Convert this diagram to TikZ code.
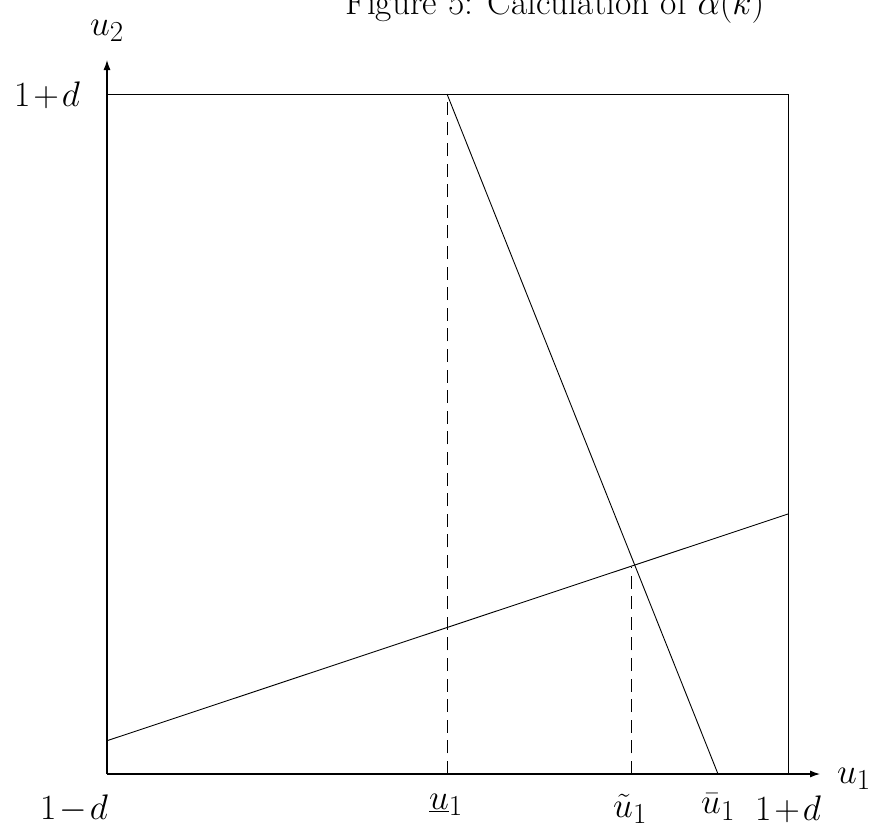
\documentclass[tikz,border=0pt]{standalone}
\usepackage{fix-cm}
\DeclareMathSizes{35.5}{35.5}{29}{24}
\usetikzlibrary{arrows.meta}
\begin{document}
\begin{tikzpicture}[x=1pt,y=-1pt,
  lbl/.style={font=\fontsize{35.5}{42}\selectfont,inner sep=0pt,outer sep=0pt},
  axis/.style={line width=1.1pt,-{Latex[length=10pt,width=7pt]}},
  thin line/.style={line width=0.9pt},
  dashline/.style={line width=0.9pt,dash pattern=on 13pt off 7.6pt}]
\useasboundingbox (0,0) rectangle (874,831);
% corners and points
\coordinate (O) at (107,774);
\coordinate (TL) at (107,94);
\coordinate (TR) at (788,94);
\coordinate (BR) at (788,774);
\coordinate (ytip) at (107,60);
\coordinate (xtip) at (820,774);
\coordinate (steepTop) at (447,94);
\coordinate (steepBot) at (718,774);
\coordinate (shL) at (107,740.7);
\coordinate (shR) at (788,514);
\coordinate (ulow) at (447,774);
\coordinate (tilBot) at (631,774);
\coordinate (tilTop) at (631,567);
% axes
\draw[axis] (O) -- (ytip);
\draw[axis] (O) -- (xtip);
% box
\draw[thin line] (TL) -- (TR) -- (BR);
% lines
\draw[thin line] (steepTop) -- (steepBot);
\draw[thin line] (shL) -- (shR);
\draw[dashline] (ulow) -- (steepTop);
\draw[dashline] (tilBot) -- (tilTop);
% labels
\node[lbl,anchor=base] (cap) at (555,14) {Figure 5: Calculation of $\alpha(k)$};
\node[lbl,anchor=base] (u2) at (107,35) {$u_2$};
\node[lbl,anchor=base west] (u1) at (837,783) {$u_1$};
\node[lbl,anchor=base east] (ytop) at (80,106) {$1\mskip1.5mu{+}\mskip1.5mu d$};
\node[lbl,anchor=north east] (xmin) at (108,795) {$1\mskip1.5mu{-}\mskip1.5mu d$};
\node[lbl,anchor=north] (ulab) at (446,794) {$\underline{u}_1$};
\node[lbl,anchor=north] (tlab) at (630,794) {$\tilde{u}_1$};
\node[lbl,anchor=north] (blab) at (718,794) {$\bar{u}_1$};
\node[lbl,anchor=north] (xmax) at (788,796) {$1\mskip1.5mu{+}\mskip1.5mu d$};
\end{tikzpicture}
\end{document}
